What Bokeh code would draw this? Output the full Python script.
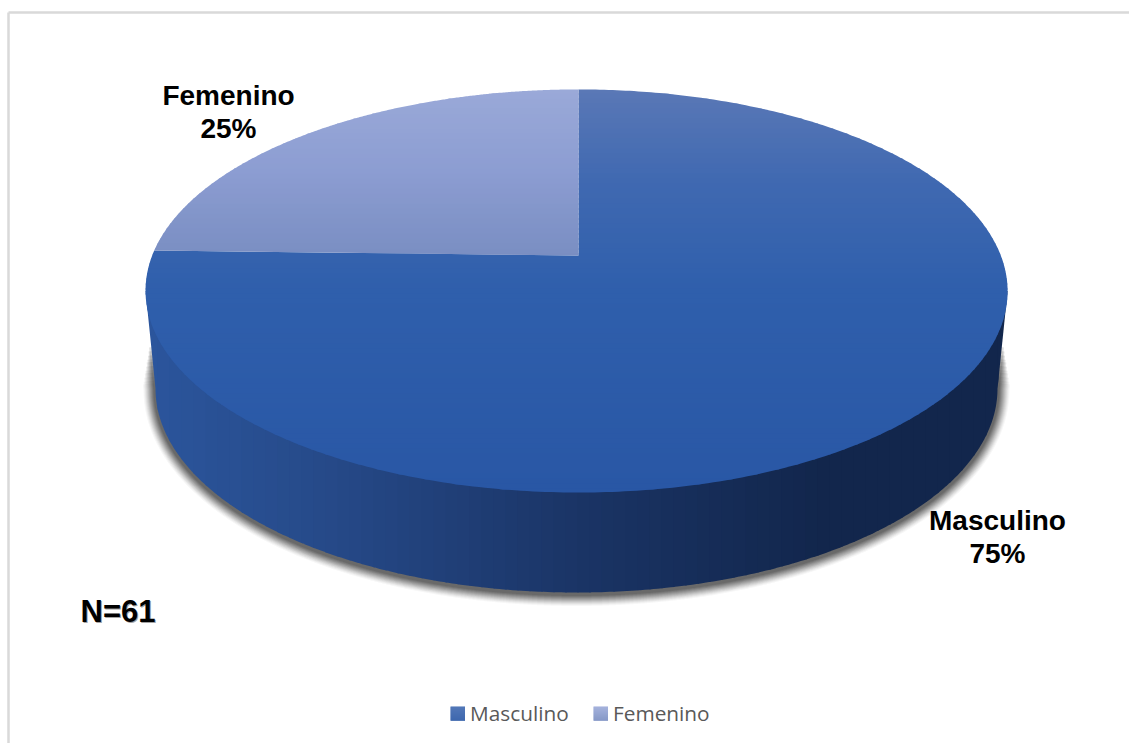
import numpy as np
from bokeh.core.properties import value
from bokeh.embed import file_html
from bokeh.models import Range1d
from bokeh.plotting import figure
from bokeh.resources import INLINE

# Respondents per category
categories = ["Masculino", "Femenino"]
counts = [46, 15]
total = sum(counts)
percent_labels = [f"{round(100 * c / total)}%" for c in counts]

W, H = 1129, 743

# Perspective view of the pie: unit disc -> page pixels
HUB_X, HUB_Y = 578.0, 255.0
SCALE_U, SCALE_V, TILT = 424.3, 195.3, 0.176
SIDE_DRIFT = 2.0
WALL_CX, WALL_CY, WALL_RX, WALL_RY = 576.0, 388.0, 421.0, 204.0


def project(theta):
    """Angle clockwise from twelve o'clock to page pixels on the top face."""
    u, v = np.sin(theta), np.cos(theta)
    d = 1 + TILT * v
    return HUB_X + SCALE_U * u / d - SIDE_DRIFT * u * u, HUB_Y - SCALE_V * v / d


def sector(start, stop):
    t = np.linspace(start, stop, 400)
    x, y = project(t)
    return np.r_[HUB_X, x], np.r_[HUB_Y, y]


def clip(px, py, axis_vals, low, high):
    """Clip a polygon to low <= axis value <= high (Sutherland-Hodgman)."""
    pts = list(zip(px, py))
    idx = axis_vals
    for bound, sign in ((low, 1), (high, -1)):
        out = []
        for i in range(len(pts)):
            a, b = pts[i - 1], pts[i]
            da, db = sign * (a[idx] - bound), sign * (b[idx] - bound)
            if da >= 0:
                if db >= 0:
                    out.append(b)
                else:
                    f = da / (da - db)
                    out.append((a[0] + f * (b[0] - a[0]), a[1] + f * (b[1] - a[1])))
            elif db >= 0:
                f = da / (da - db)
                out.append((a[0] + f * (b[0] - a[0]), a[1] + f * (b[1] - a[1])))
                out.append(b)
        pts = out
        if not pts:
            return [], []
    return [p[0] for p in pts], [p[1] for p in pts]


def mix(stops, t):
    pos = [s[0] for s in stops]
    rgb = [np.interp(t, pos, [int(s[1][i:i + 2], 16) for s in stops]) for i in (1, 3, 5)]
    return "#%02x%02x%02x" % tuple(int(round(c)) for c in rgb)


p = figure(width=W, height=H, output_backend="svg", toolbar_location=None,
           x_range=Range1d(0, W), y_range=Range1d(H, 0), min_border=0,
           x_axis_type=None, y_axis_type=None, outline_line_color=None,
           background_fill_color="white", border_fill_color="white")
p.grid.visible = False

# Chart frame, open at the right and bottom
p.line([8, 8], [H, 12], line_color="#d9d9d9", line_width=2.5)
p.line([8, W], [12, 12], line_color="#d9d9d9", line_width=2.5)

# Wall outline shared by the shadow and the side of the pie
rim_t = np.linspace(0, 2 * np.pi, 720)
rim_x, rim_y = project(rim_t)
left_i, right_i = rim_x.argmin(), rim_x.argmax()
arc = np.linspace(np.pi, 2 * np.pi, 300)
wall_x = WALL_CX + WALL_RX * np.cos(arc)
wall_y = WALL_CY - WALL_RY * np.sin(arc)
side_x = np.r_[rim_x[left_i], wall_x, rim_x[right_i]]
side_y = np.r_[rim_y[left_i], wall_y, rim_y[right_i]]

# Soft drop shadow along the lower edge of the wall; the wider, fainter passes
# stop further down the wall so the shadow fades out towards the rim
side_dense_t = np.linspace(0, 1, 900)
path_s = np.r_[0, np.cumsum(np.hypot(np.diff(side_x), np.diff(side_y)))]
path_s /= path_s[-1]
dense_x = np.interp(side_dense_t, path_s, side_x)
dense_y = np.interp(side_dense_t, path_s, side_y)
shadow_passes = [(24, 0.035), (22, 0.045), (20, 0.055), (18, 0.07), (16, 0.08),
                 (14, 0.09), (12, 0.10), (10, 0.11), (8, 0.12), (6, 0.13), (4, 0.14)]
for w, a in shadow_passes:
    mask = dense_y > 338 + 1.8 * w
    p.line(dense_x[mask], dense_y[mask] + 1.5, line_color="#1a1a1a", line_width=w,
           line_alpha=a, line_cap="butt", line_join="round")

# Side wall, shaded left to right
wall_stops = [(0.0, "#2b559c"), (0.2, "#264a89"), (0.5, "#1a3465"),
              (0.78, "#12264c"), (1.0, "#12264c")]
edges = np.arange(side_x.min(), side_x.max(), 12.0)
for x0 in edges:
    bx, by = clip(side_x, side_y, 0, x0, x0 + 13)
    if bx:
        p.patch(bx, by, fill_color=mix(wall_stops, (x0 - side_x.min()) / 862), line_color=None)

# Top face, one slice per category, going clockwise from twelve o'clock
face_stops = {
    "Masculino": [(89, "#5a78b6"), (180, "#4069b1"), (290, "#2f5fac"), (492, "#2957a5")],
    "Femenino": [(89, "#9aa9d8"), (170, "#8c9dd2"), (255, "#7a8ec2")],
}
start = 0.0
for name, count in zip(categories, counts):
    stop = start + 2 * np.pi * count / total
    sx, sy = sector(start, stop)
    ys = np.arange(np.floor(sy.min()), np.ceil(sy.max()), 5.0)
    stops = face_stops[name]
    for y0 in ys:
        bx, by = clip(sx, sy, 1, y0, y0 + 6)
        if bx:
            p.patch(bx, by, fill_color=mix(stops, y0 + 2.5), line_color=None)
    start = stop

# Data labels: category name over its share
label_font = value("Liberation Sans")
label_anchor = {"Masculino": (997, 519.5, 552.5), "Femenino": (228, 95, 128)}
for name, pct in zip(categories, percent_labels):
    ax, name_y, pct_y = label_anchor[name]
    for txt, ty in ((name, name_y), (pct, pct_y)):
        p.text([ax], [ty], text=[txt], text_font=label_font, text_font_size="28px",
               text_font_style="bold", text_color="black", text_align="center",
               text_baseline="middle")

# Sample size note, with a faint shadow behind it
sample_text = f"N={total}"
p.text([118.5], [611.5], text=[sample_text], text_font=label_font, text_font_size="31px",
       text_font_style="bold", text_color="#8a8a8a", text_align="center",
       text_baseline="middle", text_alpha=0.8)
p.text([117.5], [610.5], text=[sample_text], text_font=label_font, text_font_size="31px",
       text_font_style="bold", text_color="black", text_align="center",
       text_baseline="middle")

# Legend
legend_x = {"Masculino": 450, "Femenino": 593}
legend_stops = {"Masculino": [(0, "#3f68b0"), (1, "#2957a5")],
                "Femenino": [(0, "#9aa9d8"), (1, "#7a8ec2")]}
for name in categories:
    lx = legend_x[name]
    for i in range(14):
        p.quad(left=[lx], right=[lx + 14.5], top=[706 + i], bottom=[707.3 + i],
               fill_color=mix(legend_stops[name], i / 13), line_color=None)
    p.text([lx + 19.5], [712], text=[name], text_font=value("Open Sans"), text_font_size="20.8px",
           text_color="#595959", text_align="left", text_baseline="middle")

open("out.html", "w").write(file_html(p, INLINE))
